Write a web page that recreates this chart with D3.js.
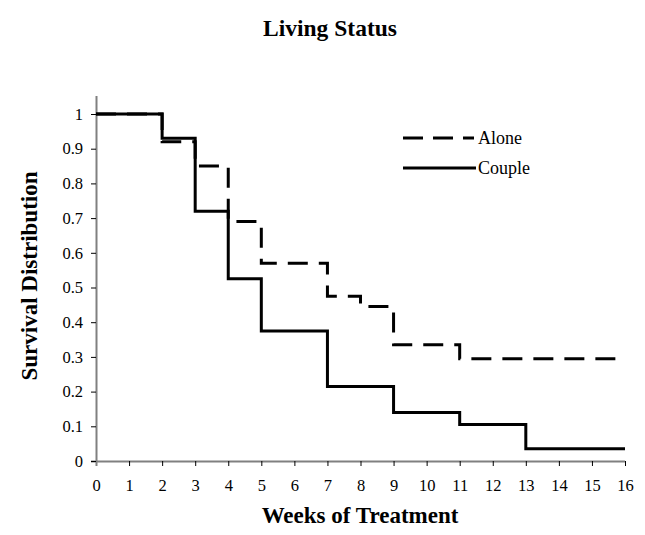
<!DOCTYPE html>
<html>
<head>
<meta charset="utf-8">
<script src="https://cdn.jsdelivr.net/npm/d3@7"></script>
<style>
  body { margin: 0; background: #fff; }
  svg text { font-family: "Liberation Serif", "Times New Roman", serif; fill: #000; }
</style>
</head>
<body>
<svg id="chart" width="645" height="535"></svg>
<script>
// step data: value holds from weeks[i] until the next week
var aloneWeeks = [0, 2, 3, 4, 5, 7, 8, 9, 11, 16];
var aloneSurv = [1, 0.92, 0.85, 0.69, 0.57, 0.475, 0.445, 0.335, 0.295, 0.295];
var coupleWeeks = [0, 2, 3, 4, 5, 7, 9, 11, 13, 16];
var coupleSurv = [1, 0.93, 0.72, 0.525, 0.375, 0.215, 0.14, 0.105, 0.035, 0.035];
var xTicks = d3.range(0, 17);
var yTicks = [0, 0.1, 0.2, 0.3, 0.4, 0.5, 0.6, 0.7, 0.8, 0.9, 1];

var svg = d3.select('#chart');
var x = d3.scaleLinear().domain([0, 16]).range([96, 625]);
var y = d3.scaleLinear().domain([0, 1]).range([461, 114]);

// axes
var xAxis = d3.axisBottom(x).tickValues(xTicks).tickSize(5).tickPadding(13).tickSizeOuter(0);
var yAxis = d3.axisLeft(y).tickValues(yTicks).tickSize(5).tickPadding(8).tickSizeOuter(0)
    .tickFormat(function (d) { return d === 0 || d === 1 ? d3.format('d')(d) : d3.format('.1f')(d); });

var gx = svg.append('g').attr('transform', 'translate(0,461)').call(xAxis);
var gy = svg.append('g').attr('transform', 'translate(96,0)').call(yAxis);
[gx, gy].forEach(function (g) {
    g.attr('font-size', null).attr('font-family', null);
    g.select('.domain').attr('stroke', '#808080').attr('stroke-width', 2);
    g.selectAll('.tick line').attr('stroke', '#000');
    g.selectAll('.tick text').style('font-size', '16.5px');
});
// extend the y axis line above 1 and the x axis line left of 0
gx.select('.domain').attr('d', 'M91,0.5H' + x(16));
gy.select('.domain').attr('d', 'M0.5,96V' + (y(0) + 5));

var line = d3.line()
    .x(function (d) { return x(d[0]); })
    .y(function (d) { return y(d[1]); })
    .curve(d3.curveStepAfter);

svg.append('path')
    .datum(d3.zip(aloneWeeks, aloneSurv))
    .attr('d', line)
    .attr('fill', 'none').attr('stroke', '#000').attr('stroke-width', 3)
    .attr('stroke-dasharray', '20,11');

svg.append('path')
    .datum(d3.zip(coupleWeeks, coupleSurv))
    .attr('d', line)
    .attr('fill', 'none').attr('stroke', '#000').attr('stroke-width', 3);

// legend
var legend = svg.append('g');
legend.append('line').attr('x1', 403).attr('x2', 474).attr('y1', 138).attr('y2', 138)
    .attr('stroke', '#000').attr('stroke-width', 3).attr('stroke-dasharray', '20,10');
legend.append('text').attr('x', 478).attr('y', 144).style('font-size', '18px').text('Alone');
legend.append('line').attr('x1', 403).attr('x2', 476).attr('y1', 168).attr('y2', 168)
    .attr('stroke', '#000').attr('stroke-width', 3);
legend.append('text').attr('x', 478).attr('y', 174).style('font-size', '18px').text('Couple');

// titles
svg.append('text').attr('x', 330).attr('y', 36).attr('text-anchor', 'middle')
    .style('font-size', '23.5px').style('font-weight', 'bold').text('Living Status');
svg.append('text').attr('x', 360).attr('y', 523).attr('text-anchor', 'middle')
    .style('font-size', '23px').style('font-weight', 'bold').text('Weeks of Treatment');
svg.append('text').attr('transform', 'translate(37,276) rotate(-90)').attr('text-anchor', 'middle')
    .style('font-size', '23px').style('font-weight', 'bold').text('Survival Distribution');
</script>
</body>
</html>
